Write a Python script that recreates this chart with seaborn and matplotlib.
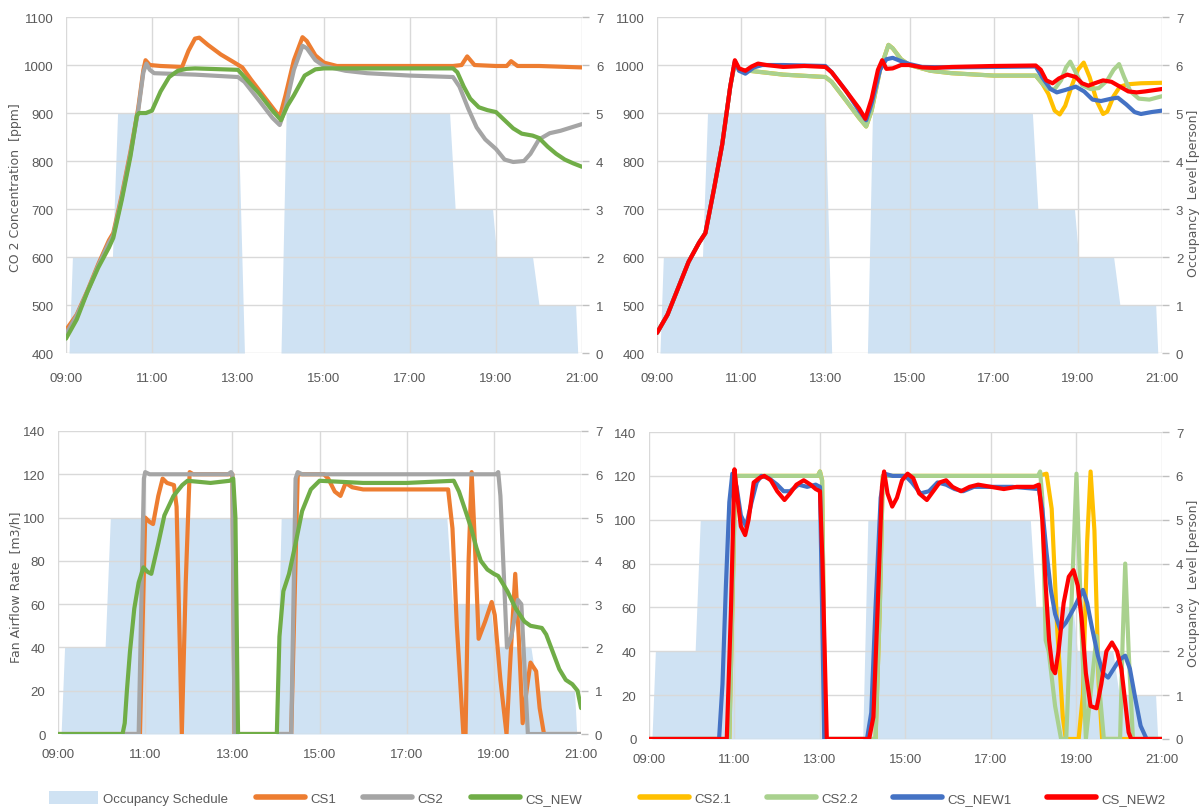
"""
CO2 concentration and fan airflow rate for the control strategies,
drawn over the occupancy schedule (2 x 2 panels, twin occupancy axis).
"""
import matplotlib
matplotlib.use("Agg")
import matplotlib.pyplot as plt
from matplotlib.lines import Line2D
from matplotlib.patches import Patch
import seaborn as sns

# ---- occupancy schedule [person], time in hours of the day ----
occ_t = [9.0, 9.07, 9.15, 10.08, 10.2, 13.0, 13.15, 14.0, 14.12, 17.92, 18.05,
         18.92, 19.02, 19.85, 20.0, 20.85, 20.9, 21.0]
occ_v = [0, 0, 2, 2, 5, 5, 0, 0, 5, 5, 3, 3, 2, 2, 1, 1, 0, 0]

# ---- CO2 [ppm], left panel ----
cs1_co2_t = [9.0, 9.25, 9.5, 9.75, 10.0, 10.1, 10.3, 10.5, 10.68, 10.8, 10.85, 10.95,
             11.2, 11.7, 11.85, 12.0, 12.1, 12.3, 12.6, 12.9, 13.1, 13.3, 13.6, 13.9,
             13.98, 14.1, 14.3, 14.5, 14.6, 14.8, 15.0, 15.3, 16.0, 17.0, 18.0, 18.2,
             18.33, 18.5, 19.0, 19.25, 19.35, 19.5, 20.0, 21.0]
cs1_co2 = [448, 480, 530, 585, 635, 650, 730, 820, 910, 990, 1010, 1000,
           998, 996, 1030, 1055, 1057, 1042, 1022, 1006, 995, 970, 935, 900,
           895, 935, 1010, 1058, 1050, 1020, 1005, 998, 998, 998, 998, 1000,
           1018, 1000, 998, 998, 1008, 998, 998, 995]

cs2_co2_t = [9.0, 9.25, 9.5, 9.75, 10.0, 10.1, 10.3, 10.5, 10.68, 10.8, 10.87, 10.95,
             11.05, 12.0, 13.0, 13.15, 13.5, 13.8, 13.97, 14.1, 14.3, 14.5, 14.6, 14.8,
             15.0, 15.5, 16.0, 17.0, 18.0, 18.15, 18.35, 18.55, 18.75, 19.0, 19.2, 19.4,
             19.65, 19.8, 20.0, 20.25, 20.5, 20.75, 21.0]
cs2_co2 = [440, 478, 528, 582, 630, 645, 725, 815, 905, 985, 1003, 990,
           983, 980, 975, 965, 925, 890, 875, 910, 990, 1040, 1035, 1010,
           998, 988, 983, 978, 975, 955, 910, 870, 845, 825, 803, 798,
           800, 815, 845, 858, 863, 870, 877]

csnew_co2_t = [9.0, 9.25, 9.5, 9.75, 10.0, 10.1, 10.3, 10.5, 10.65, 10.7, 10.86, 11.0,
               11.2, 11.4, 11.6, 11.8, 12.0, 13.0, 13.15, 13.5, 13.8, 14.0, 14.15, 14.3,
               14.55, 14.8, 15.0, 18.0, 18.1, 18.25, 18.4, 18.6, 18.8, 19.0, 19.2, 19.4,
               19.6, 19.85, 20.0, 20.2, 20.4, 20.6, 20.8, 21.0]
csnew_co2 = [430, 470, 528, 578, 620, 640, 720, 810, 895, 900, 900, 905,
             945, 975, 988, 992, 993, 990, 975, 940, 905, 885, 915, 937,
             978, 991, 993, 993, 985, 955, 930, 912, 906, 902, 885, 868,
             857, 853, 848, 830, 815, 803, 795, 788]

# ---- CO2 [ppm], right panel ----
cs21_co2_t = [9.0, 9.25, 9.5, 9.75, 10.0, 10.15, 10.35, 10.55, 10.74, 10.85, 10.95, 11.2,
              11.5, 12.0, 13.0, 13.15, 13.5, 13.8, 13.97, 14.1, 14.3, 14.5, 14.6, 14.8,
              15.0, 15.5, 16.0, 17.0, 18.0, 18.15, 18.3, 18.45, 18.57, 18.7, 18.85, 19.0,
              19.14, 19.28, 19.45, 19.6, 19.7, 19.85, 20.0, 20.2, 20.5, 21.0]
cs21_co2 = [442, 480, 535, 590, 630, 650, 740, 835, 955, 1005, 990, 988,
            985, 980, 975, 965, 925, 890, 872, 905, 990, 1042, 1035, 1012,
            1000, 988, 983, 978, 978, 962, 940, 905, 897, 915, 955, 990,
            1005, 975, 925, 898, 903, 935, 955, 960, 962, 963]

cs22_co2_t = [9.0, 9.25, 9.5, 9.75, 10.0, 10.15, 10.35, 10.55, 10.74, 10.85, 10.95, 11.2,
              11.5, 12.0, 13.0, 13.15, 13.5, 13.8, 13.97, 14.1, 14.3, 14.5, 14.6, 14.8,
              15.0, 15.5, 16.0, 17.0, 18.0, 18.15, 18.3, 18.45, 18.6, 18.72, 18.82, 18.92,
              19.1, 19.3, 19.5, 19.7, 19.85, 19.98, 20.1, 20.25, 20.45, 20.7, 21.0]
cs22_co2 = [442, 480, 535, 590, 630, 650, 740, 835, 955, 1005, 990, 988,
            985, 980, 975, 965, 925, 890, 872, 905, 990, 1042, 1035, 1012,
            1000, 988, 983, 978, 978, 962, 950, 950, 968, 995, 1007, 990,
            958, 950, 952, 968, 990, 1002, 975, 945, 930, 928, 935]

csnew1_co2_t = [9.0, 9.25, 9.5, 9.75, 10.0, 10.15, 10.35, 10.55, 10.74, 10.85, 10.95, 11.1,
                11.3, 11.5, 12.0, 13.0, 13.15, 13.5, 13.8, 13.97, 14.1, 14.3, 14.45, 14.6,
                14.8, 15.0, 15.3, 16.0, 17.0, 18.0, 18.15, 18.35, 18.5, 18.7, 18.95, 19.15,
                19.35, 19.55, 19.8, 19.95, 20.15, 20.35, 20.5, 20.75, 21.0]
csnew1_co2 = [442, 480, 535, 590, 630, 650, 740, 835, 955, 1008, 988, 982,
              995, 1000, 1000, 998, 985, 945, 905, 885, 920, 990, 1012, 1015,
              1008, 1002, 996, 995, 996, 997, 975, 950, 943, 948, 955, 945,
              928, 925, 930, 932, 918, 902, 898, 902, 905]

csnew2_co2_t = [9.0, 9.25, 9.5, 9.75, 10.0, 10.15, 10.35, 10.55, 10.74, 10.85, 10.95, 11.1,
                11.25, 11.4, 11.6, 12.0, 12.5, 13.0, 13.15, 13.5, 13.8, 13.95, 14.1, 14.25,
                14.35, 14.45, 14.6, 14.8, 15.0, 15.3, 15.6, 16.0, 17.0, 18.0, 18.12, 18.25,
                18.4, 18.55, 18.75, 18.95, 19.1, 19.25, 19.4, 19.6, 19.8, 20.0, 20.2, 20.4,
                20.6, 21.0]
csnew2_co2 = [442, 480, 535, 590, 630, 650, 740, 835, 955, 1010, 993, 988,
              997, 1003, 1000, 996, 998, 996, 985, 945, 910, 888, 930, 990,
              1010, 992, 993, 1000, 1000, 995, 994, 996, 998, 999, 990, 968,
              962, 972, 980, 975, 962, 957, 962, 968, 965, 955, 945, 943,
              945, 950]

# ---- fan airflow rate [m3/h], left panel ----
cs1_fan_t = [9.0, 10.88, 11.0, 11.1, 11.18, 11.3, 11.4, 11.5, 11.66, 11.72, 11.84, 11.93,
             12.02, 12.1, 13.0, 13.05, 14.35, 14.5, 15.1, 15.2, 15.35, 15.48, 15.6, 15.75,
             16.0, 17.0, 17.95, 18.05, 18.15, 18.3, 18.35, 18.42, 18.49, 18.56, 18.65, 18.8,
             18.95, 19.02, 19.15, 19.29, 19.38, 19.49, 19.57, 19.66, 19.75, 19.84, 19.97,
             20.05, 20.15, 21.0]
cs1_fan = [0, 0, 100, 98, 97, 110, 118, 116, 115, 105, 0, 70,
           121, 120, 120, 0, 0, 120, 120, 118, 112, 110, 116, 114,
           113, 113, 113, 95, 50, 0, 0, 80, 121, 90, 44, 52,
           61, 55, 25, 0, 35, 74, 45, 5, 20, 33, 29,
           12, 0, 0]

cs2_fan_t = [9.0, 10.85, 10.97, 11.0, 11.1, 12.9, 12.97, 13.0, 13.05, 14.35, 14.45, 14.5,
             14.6, 19.05, 19.1, 19.15, 19.3, 19.4, 19.55, 19.63, 19.78, 21.0]
cs2_fan = [0, 0, 118, 121, 120, 120, 121, 120, 0, 0, 118, 121,
           120, 120, 121, 110, 40, 45, 62, 60, 0, 0]

csnew_fan_t = [9.0, 10.48, 10.53, 10.58, 10.65, 10.75, 10.85, 10.96, 11.05, 11.14, 11.3, 11.44,
               11.65, 11.85, 11.97, 12.5, 12.94, 13.02, 13.07, 13.13, 14.02, 14.08, 14.17, 14.3,
               14.45, 14.6, 14.8, 15.0, 16.0, 17.0, 18.08, 18.2, 18.35, 18.48, 18.6, 18.7,
               18.85, 19.0, 19.1, 19.31, 19.5, 19.7, 19.84, 20.1, 20.2, 20.35, 20.5, 20.65,
               20.8, 20.92, 21.0]
csnew_fan = [0, 0, 5, 20, 38, 58, 70, 77, 75, 74, 88, 101,
             110, 115, 117, 116, 117, 118, 100, 0, 0, 45, 66, 74,
             88, 103, 113, 117, 116, 116, 117, 112, 103, 95, 86, 80,
             76, 74, 73, 66, 58, 52, 50, 49, 46, 38, 30, 25,
             23, 20, 12]

# ---- fan airflow rate [m3/h], right panel ----
cs21_fan_t = [9.0, 10.88, 11.02, 12.95, 13.0, 13.05, 13.12, 14.3, 14.4, 14.47, 18.1, 18.3,
              18.42, 18.55, 18.68, 18.75, 19.05, 19.15, 19.25, 19.33, 19.42, 19.52, 19.6, 21.0]
cs21_fan = [0, 0, 120, 120, 122, 118, 0, 0, 60, 120, 120, 121,
            105, 50, 10, 0, 0, 20, 90, 122, 95, 25, 0, 0]

cs22_fan_t = [9.0, 10.88, 11.02, 12.95, 13.0, 13.05, 13.12, 14.3, 14.4, 14.47, 18.1, 18.15,
              18.2, 18.28, 18.35, 18.5, 18.64, 18.76, 18.88, 19.0, 19.1, 19.22, 19.3, 19.47,
              19.55, 19.64, 20.02, 20.08, 20.14, 20.22, 20.32, 21.0]
cs22_fan = [0, 0, 120, 120, 122, 118, 0, 0, 60, 120, 120, 122,
            110, 45, 40, 15, 0, 0, 60, 121, 60, 0, 15, 47,
            20, 0, 0, 45, 80, 40, 0, 0]

csnew1_fan_t = [9.0, 10.64, 10.72, 10.8, 10.88, 10.95, 11.05, 11.15, 11.27, 11.4, 11.52, 11.63,
                11.8, 12.0, 12.15, 12.3, 12.5, 12.7, 12.9, 13.0, 13.05, 13.1, 14.1, 14.2,
                14.3, 14.42, 14.51, 14.7, 15.0, 15.15, 15.35, 15.55, 15.75, 15.95, 16.15, 16.35,
                16.6, 17.0, 17.5, 18.12, 18.2, 18.3, 18.4, 18.5, 18.62, 18.75, 18.95, 19.15,
                19.25, 19.35, 19.5, 19.62, 19.74, 19.87, 20.0, 20.14, 20.25, 20.38, 20.5, 20.64,
                21.0]
csnew1_fan = [0, 0, 25, 70, 108, 121, 115, 102, 97, 108, 117, 120,
              119, 116, 113, 113, 116, 115, 116, 115, 60, 0, 0, 12,
              60, 110, 121, 120, 120, 117, 112, 113, 117, 116, 114, 113,
              115, 115, 115, 114, 105, 85, 68, 57, 50, 53, 60, 68,
              62, 52, 38, 30, 28, 32, 36, 38, 32, 18, 6, 0,
              0]

csnew2_fan_t = [9.0, 10.82, 10.92, 11.0, 11.07, 11.15, 11.25, 11.33, 11.45, 11.58, 11.7, 11.85,
                12.0, 12.17, 12.3, 12.45, 12.62, 12.78, 12.9, 13.0, 13.06, 13.16, 14.15, 14.25,
                14.35, 14.45, 14.5, 14.58, 14.69, 14.8, 14.92, 15.05, 15.18, 15.32, 15.5, 15.65,
                15.8, 15.95, 16.1, 16.3, 16.5, 16.7, 17.0, 17.3, 17.6, 18.0, 18.12, 18.2,
                18.28, 18.36, 18.44, 18.5, 18.58, 18.7, 18.82, 18.93, 19.03, 19.12, 19.22, 19.33,
                19.47, 19.58, 19.7, 19.83, 19.95, 20.05, 20.15, 20.22, 20.28, 21.0]
csnew2_fan = [0, 0, 60, 123, 110, 97, 93, 100, 117, 119, 120, 118,
              113, 109, 112, 116, 118, 116, 114, 113, 80, 0, 0, 10,
              60, 115, 122, 112, 106, 110, 118, 121, 119, 112, 109, 113,
              117, 118, 115, 113, 115, 116, 115, 114, 115, 115, 116, 100,
              70, 45, 32, 30, 40, 62, 74, 77, 70, 55, 30, 15,
              14, 25, 40, 44, 40, 32, 15, 3, 0, 0]

OCC_COLOR = "#cfe2f3"
TXT_COLOR = "#595959"
GRID_COLOR = "#d9d9d9"
LW = 3
TICK_SIZE = 9.5

sns.set_style("white")
plt.rcParams["font.family"] = ["Liberation Sans", "DejaVu Sans"]


def draw_panel(ax, series, ylim, yticks, xpad):
    # occupancy on the twin axis, kept behind the main lines
    ax2 = ax.twinx()
    ax2.fill_between(occ_t, occ_v, color=OCC_COLOR, lw=0)
    ax2.set_ylim(0, 7)
    ax2.set_yticks(range(0, 8))
    ax2.tick_params(axis="y", length=5, width=1, color="#bfbfbf",
                    labelcolor=TXT_COLOR, labelsize=TICK_SIZE, pad=5)
    ax.set_zorder(ax2.get_zorder() + 1)
    ax.patch.set_visible(False)

    for t, v, color in series:
        sns.lineplot(x=t, y=v, ax=ax, color=color, lw=LW, sort=False,
                     legend=False, solid_joinstyle="round", solid_capstyle="round")

    ax.set_xlim(9, 21)
    ax.set_ylim(*ylim)
    ax.set_yticks(yticks)
    ax.set_xticks(range(9, 22, 2))
    ax.set_xticklabels([f"{h:02d}:00" for h in range(9, 22, 2)])
    ax.set_xlabel("")
    ax.set_ylabel("")
    ax.grid(True, color=GRID_COLOR, lw=1)
    ax.tick_params(axis="both", length=0, labelcolor=TXT_COLOR, labelsize=TICK_SIZE)
    ax.tick_params(axis="y", pad=9)
    ax.tick_params(axis="x", pad=xpad)
    for sp in ax.spines.values():
        sp.set_visible(False)
    for sp in ax2.spines.values():
        sp.set_visible(False)


fig = plt.figure(figsize=(12.04, 8.12), dpi=100)
ax_tl = fig.add_axes([0.0548, 0.564, 0.4286, 0.4138])
ax_tr = fig.add_axes([0.5457, 0.564, 0.4194, 0.4138])
ax_bl = fig.add_axes([0.0482, 0.0948, 0.4344, 0.3732])
ax_br = fig.add_axes([0.5390, 0.0887, 0.4261, 0.3780])

co2_ticks = list(range(400, 1101, 100))
fan_ticks = list(range(0, 141, 20))

draw_panel(ax_tl, [(cs1_co2_t, cs1_co2, "#ed7d31"),
                   (cs2_co2_t, cs2_co2, "#a5a5a5"),
                   (csnew_co2_t, csnew_co2, "#70ad47")],
           (400, 1100), co2_ticks, 14)
draw_panel(ax_tr, [(cs21_co2_t, cs21_co2, "#ffc000"),
                   (cs22_co2_t, cs22_co2, "#a9d18e"),
                   (csnew1_co2_t, csnew1_co2, "#4472c4"),
                   (csnew2_co2_t, csnew2_co2, "#ff0000")],
           (400, 1100), co2_ticks, 14)
draw_panel(ax_bl, [(cs1_fan_t, cs1_fan, "#ed7d31"),
                   (cs2_fan_t, cs2_fan, "#a5a5a5"),
                   (csnew_fan_t, csnew_fan, "#70ad47")],
           (0, 140), fan_ticks, 10)
draw_panel(ax_br, [(cs21_fan_t, cs21_fan, "#ffc000"),
                   (cs22_fan_t, cs22_fan, "#a9d18e"),
                   (csnew1_fan_t, csnew1_fan, "#4472c4"),
                   (csnew2_fan_t, csnew2_fan, "#ff0000")],
           (0, 140), fan_ticks, 10)

# axis titles
lab = dict(rotation=90, ha="center", va="center", color=TXT_COLOR,
           fontsize=9, family=["DejaVu Sans"])
fig.text(16 / 1204, 1 - 188 / 812, "CO 2 Concentration  [ppm]", **lab)
fig.text(16 / 1204, 1 - 587 / 812, "Fan Airflow Rate  [m3/h]", **lab)
fig.text(1193 / 1204, 1 - 193 / 812, "Occupancy  Level [person]", **lab)
fig.text(1193 / 1204, 1 - 583 / 812, "Occupancy  Level [person]", **lab)

# legends under the bottom panels
left_handles = [Patch(facecolor=OCC_COLOR, edgecolor="none"),
                Line2D([], [], color="#ed7d31", lw=4),
                Line2D([], [], color="#a5a5a5", lw=4),
                Line2D([], [], color="#70ad47", lw=4)]
right_handles = [Line2D([], [], color="#ffc000", lw=4),
                 Line2D([], [], color="#a9d18e", lw=4),
                 Line2D([], [], color="#4472c4", lw=4),
                 Line2D([], [], color="#ff0000", lw=4)]
leg_kw = dict(loc="center", ncol=4, frameon=False, fontsize=9.5, handlelength=3.7,
              handleheight=1.2, handletextpad=0.4, labelcolor=TXT_COLOR)
fig.legend(left_handles, ["Occupancy Schedule", "CS1", "CS2", "CS_NEW"],
           bbox_to_anchor=(0.262, 0.016), columnspacing=2.1, **leg_kw)
fig.legend(right_handles, ["CS2.1", "CS2.2", "CS_NEW1", "CS_NEW2"],
           bbox_to_anchor=(0.750, 0.016), columnspacing=2.7, **leg_kw)

fig.savefig("out.png", dpi=100)
plt.close(fig)
